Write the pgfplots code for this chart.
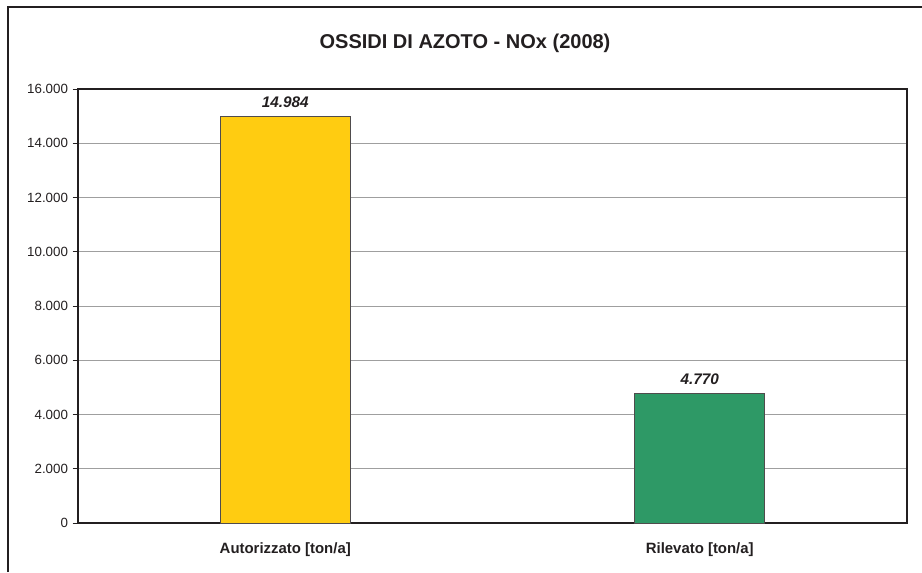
\documentclass[border=0pt]{standalone}
\usepackage{fontspec}
\setmainfont{Liberation Sans}
\usepackage{pgfplots}
\pgfplotsset{compat=1.18}
\definecolor{barYellow}{HTML}{FFCC11}
\definecolor{barGreen}{HTML}{2E9966}
\definecolor{txt}{HTML}{231F20}
\begin{document}
\begin{tikzpicture}
\useasboundingbox (0pt,0pt) rectangle (691.5pt,429pt);
% outer chart frame (only left and top edges visible)
\draw[line width=1.6pt, color=txt] (6pt,0pt) -- (6pt,423.75pt) -- (691.5pt,423.75pt);
\node[font=\bfseries\fontsize{15}{18}\selectfont, text=txt] at (348.75pt,396.75pt) {OSSIDI DI AZOTO - NOx (2008)};
\begin{axis}[
  at={(58.5pt,36.75pt)}, anchor=south west,
  scale only axis,
  width=621.75pt, height=325.5pt,
  xmin=-0.5, xmax=1.5,
  ymin=0, ymax=16000,
  xtick={0,1},
  xticklabels={Autorizzato [ton/a], Rilevato [ton/a]},
  xtick pos=bottom, ytick pos=left,
  major x tick style={draw=none},
  extra x ticks={-0.5,0.5,1.5},
  extra x tick labels={},
  extra x tick style={tick align=outside, major tick length=5pt, grid=none,
    tick style={draw=txt, line width=0.6pt}},
  ytick={0,2000,...,16000},
  ymajorgrids,
  grid style={color=gray!75, line width=0.5pt},
  tick align=outside,
  major tick length=4pt,
  tick style={draw=txt, line width=0.6pt},
  axis line style={draw=txt, line width=0.8pt},
  x axis line style={line width=1.2pt},
  scaled y ticks=false,
  /pgf/number format/.cd, 1000 sep={.}, assume math mode=true,
  /pgfplots/.cd,
  yticklabel style={font=\fontsize{10}{12}\selectfont, text=txt},
  xticklabel style={font=\bfseries\fontsize{11.2}{13}\selectfont, text=txt, yshift=-7pt},
  ybar, bar width=97.5pt, bar shift=0pt,
  nodes near coords,
  every node near coord/.append style={font=\bfseries\itshape\fontsize{11.5}{13}\selectfont, text=txt, yshift=3pt},
  clip=false,
]
\addplot[fill=barYellow, draw=txt!80, line width=0.6pt] coordinates {(0,14984)};
\addplot[fill=barGreen, draw=txt!80, line width=0.6pt] coordinates {(1,4770)};
\end{axis}
\end{tikzpicture}
\end{document}
